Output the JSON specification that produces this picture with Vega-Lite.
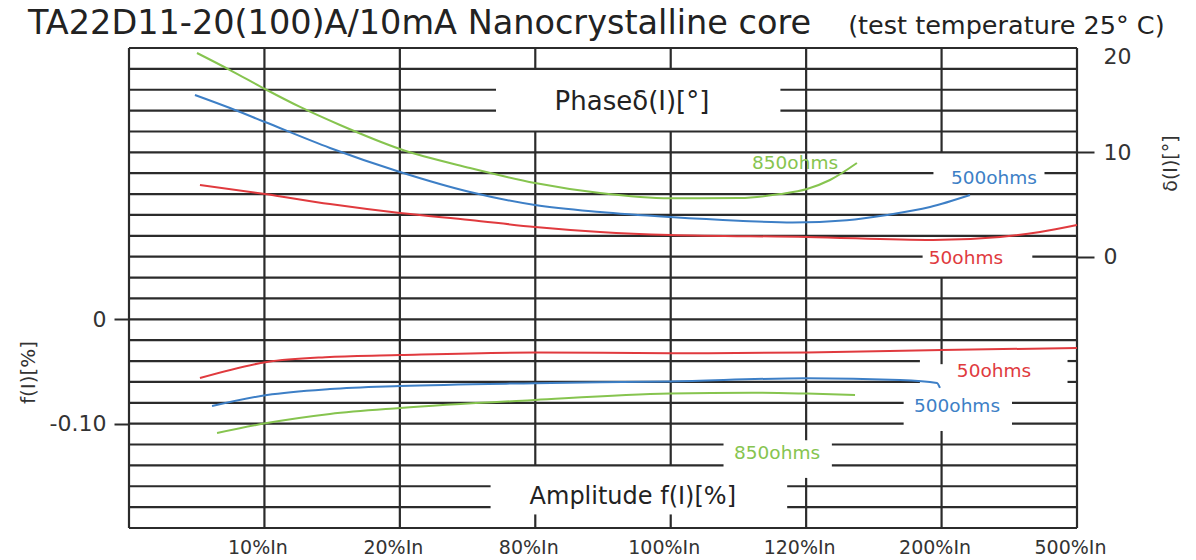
{
"$schema":"https://vega.github.io/schema/vega-lite/v6.json",
"autosize":{"type":"none"},
"padding":{"left":129,"top":48,"right":119,"bottom":32},
"width":948,"height":480,
"background":"white",
"config":{"view":{"stroke":null},"font":"DejaVu Sans"},
"datasets":{
"hgrid":[
{"d":20,"x1":0,"x2":7},{"d":18,"x1":0,"x2":7},
{"d":16,"x1":0,"x2":2.71},{"d":16,"x1":4.81,"x2":7},
{"d":14,"x1":0,"x2":2.71},{"d":14,"x1":4.81,"x2":7},
{"d":12,"x1":0,"x2":7},{"d":10,"x1":0,"x2":7},
{"d":8,"x1":0,"x2":5.94},{"d":8,"x1":6.76,"x2":7},
{"d":6,"x1":0,"x2":7},{"d":4,"x1":0,"x2":7},{"d":2,"x1":0,"x2":7},
{"d":0,"x1":0,"x2":5.86},{"d":0,"x1":6.67,"x2":7},
{"d":-2,"x1":0,"x2":7},{"d":-4,"x1":0,"x2":7},{"d":-6,"x1":0,"x2":7},{"d":-8,"x1":0,"x2":7},
{"d":-10,"x1":0,"x2":5.84},{"d":-10,"x1":6.93,"x2":7},
{"d":-12,"x1":0,"x2":5.84},{"d":-12,"x1":6.93,"x2":7},
{"d":-14,"x1":0,"x2":5.72},{"d":-14,"x1":6.52,"x2":7},
{"d":-16,"x1":0,"x2":5.72},{"d":-16,"x1":6.52,"x2":7},
{"d":-18,"x1":0,"x2":4.39},{"d":-18,"x1":5.19,"x2":7},
{"d":-20,"x1":0,"x2":4.39},{"d":-20,"x1":5.19,"x2":7},
{"d":-22,"x1":0,"x2":2.67},{"d":-22,"x1":4.86,"x2":7},
{"d":-24,"x1":0,"x2":2.67},{"d":-24,"x1":4.86,"x2":7},
{"d":-26,"x1":0,"x2":7}
],
"vgrid":[
{"x":0,"y1":20,"y2":-26},{"x":1,"y1":20,"y2":-26},{"x":2,"y1":20,"y2":-26},
{"x":3,"y1":20,"y2":18},{"x":3,"y1":12,"y2":-20},{"x":3,"y1":-24.7,"y2":-26},
{"x":4,"y1":20,"y2":18},{"x":4,"y1":12,"y2":-20},{"x":4,"y1":-24.7,"y2":-26},
{"x":5,"y1":20,"y2":-17.6},{"x":5,"y1":-21.2,"y2":-26},
{"x":6,"y1":20,"y2":10},{"x":6,"y1":-2,"y2":-10.3},{"x":6,"y1":-16.7,"y2":-26},
{"x":7,"y1":20,"y2":-26}
],
"phase":[
{"load":"850ohms","x":0.502,"d":19.52},{"load":"850ohms","x":0.746,"d":17.89},{"load":"850ohms","x":1.004,"d":16.07},
{"load":"850ohms","x":1.263,"d":14.35},{"load":"850ohms","x":1.558,"d":12.62},{"load":"850ohms","x":2.001,"d":10.32},
{"load":"850ohms","x":2.518,"d":8.5},{"load":"850ohms","x":2.998,"d":7.06},{"load":"850ohms","x":3.478,"d":6.1},
{"load":"850ohms","x":3.995,"d":5.6},{"load":"850ohms","x":4.51,"d":5.62},{"load":"850ohms","x":4.807,"d":6.0},
{"load":"850ohms","x":5.006,"d":6.49},{"load":"850ohms","x":5.176,"d":7.35},{"load":"850ohms","x":5.375,"d":8.98},
{"load":"500ohms","x":0.487,"d":15.5},{"load":"500ohms","x":0.746,"d":14.25},{"load":"500ohms","x":1.004,"d":12.91},
{"load":"500ohms","x":1.484,"d":10.42},{"load":"500ohms","x":2.001,"d":8.12},{"load":"500ohms","x":2.518,"d":6.2},
{"load":"500ohms","x":2.998,"d":4.95},{"load":"500ohms","x":3.478,"d":4.28},{"load":"500ohms","x":3.995,"d":3.8},
{"load":"500ohms","x":4.5,"d":3.45},{"load":"500ohms","x":4.9,"d":3.28},{"load":"500ohms","x":5.3,"d":3.5},
{"load":"500ohms","x":5.597,"d":4.0},{"load":"500ohms","x":5.915,"d":4.76},{"load":"500ohms","x":6.21,"d":5.91},
{"load":"50ohms","x":0.524,"d":6.87},{"load":"50ohms","x":1.004,"d":6.01},{"load":"50ohms","x":1.484,"d":5.05},
{"load":"50ohms","x":2.001,"d":4.19},{"load":"50ohms","x":2.518,"d":3.52},{"load":"50ohms","x":2.998,"d":2.85},
{"load":"50ohms","x":3.478,"d":2.37},{"load":"50ohms","x":3.995,"d":2.08},{"load":"50ohms","x":5.006,"d":1.89},
{"load":"50ohms","x":5.937,"d":1.6},{"load":"50ohms","x":6.432,"d":1.89},{"load":"50ohms","x":6.727,"d":2.37},
{"load":"50ohms","x":7.0,"d":3.04}
],
"amp":[
{"load":"50ohms","x":0.524,"f":-0.0563},{"load":"50ohms","x":1.019,"f":-0.0409},{"load":"50ohms","x":1.484,"f":-0.0361},
{"load":"50ohms","x":2.001,"f":-0.0342},{"load":"50ohms","x":2.998,"f":-0.0318},{"load":"50ohms","x":3.995,"f":-0.0325},
{"load":"50ohms","x":5.006,"f":-0.0318},{"load":"50ohms","x":6.003,"f":-0.0294},{"load":"50ohms","x":7.0,"f":-0.0275},
{"load":"500ohms","x":0.613,"f":-0.0831},{"load":"500ohms","x":1.019,"f":-0.0725},{"load":"500ohms","x":1.484,"f":-0.0668},
{"load":"500ohms","x":2.001,"f":-0.0639},{"load":"500ohms","x":2.998,"f":-0.0612},{"load":"500ohms","x":3.995,"f":-0.0595},
{"load":"500ohms","x":5.006,"f":-0.0565},{"load":"500ohms","x":5.693,"f":-0.0582},{"load":"500ohms","x":5.966,"f":-0.061},
{"load":"500ohms","x":5.988,"f":-0.0658},
{"load":"850ohms","x":0.65,"f":-0.109},{"load":"850ohms","x":1.019,"f":-0.0994},{"load":"850ohms","x":1.484,"f":-0.0907},
{"load":"850ohms","x":2.001,"f":-0.085},{"load":"850ohms","x":2.998,"f":-0.0773},{"load":"850ohms","x":3.995,"f":-0.0712},
{"load":"850ohms","x":4.6,"f":-0.0703},{"load":"850ohms","x":5.006,"f":-0.0712},{"load":"850ohms","x":5.361,"f":-0.0725}
],
"curveLabels":[
{"load":"850ohms","x":4.918,"d":8.98,"text":"850ohms"},
{"load":"500ohms","x":6.387,"d":7.54,"text":"500ohms"},
{"load":"50ohms","x":6.18,"d":-0.12,"text":"50ohms"},
{"load":"50ohms","x":6.387,"d":-10.95,"text":"50ohms"},
{"load":"500ohms","x":6.114,"d":-14.31,"text":"500ohms"},
{"load":"850ohms","x":4.785,"d":-18.81,"text":"850ohms"}
],
"boxLabels":[
{"part":"phase","x":3.714,"d":14.83,"text":"Phaseδ(I)[°]"},
{"part":"amp","x":3.72,"d":-23.03,"text":"Amplitude f(I)[%]"}
],
"heading":[
{"part":"main","x":-0.746,"d":21.3,"text":"TA22D11-20(100)A/10mA Nanocrystalline core"},
{"part":"sub","x":5.31,"d":21.3,"text":"(test temperature 25° C)"}
]
},
"layer":[
{"layer":[
{"data":{"name":"hgrid"},"mark":{"type":"rule","color":"#2b2b2b","strokeWidth":2.2},
"encoding":{
"x":{"field":"x1","type":"quantitative","scale":{"domain":[0,7],"nice":false,"zero":false},
"axis":{"orient":"bottom","values":[1,2,3,4,5,6,7],"labelExpr":"['','10%In','20%In','80%In','100%In','120%In','200%In','500%In'][datum.value]","ticks":false,"domain":false,"grid":false,"labelFont":"DejaVu Sans","labelFontSize":19,"labelColor":"#333","labelPadding":10,"labelOffset":-7,"labelFlush":false,"labelOverlap":false,"labelBound":false,"title":null}},
"x2":{"field":"x2"},
"y":{"field":"d","type":"quantitative","scale":{"domain":[-26,20],"nice":false,"zero":false},
"axis":{"orient":"right","values":[20,10,0],"ticks":true,"tickSize":17,"tickWidth":2,"tickColor":{"condition":{"test":"datum.value === 20","value":"transparent"},"value":"#2b2b2b"},"domain":false,"grid":false,"labelFont":"DejaVu Sans","labelFontSize":22,"labelColor":"#333","labelPadding":9,"labelOffset":{"condition":{"test":"datum.value === 20","value":8},"value":0},"title":"δ(I)[°]","titleFont":"DejaVu Sans","titleFontSize":19,"titleFontWeight":"normal","titleColor":"#333","titleAngle":-90,"titleX":93,"titleY":115,"titleBaseline":"middle","titleAlign":"center"}}
}},
{"data":{"name":"vgrid"},"mark":{"type":"rule","color":"#2b2b2b","strokeWidth":2.2},
"encoding":{"x":{"field":"x","type":"quantitative"},"y":{"field":"y1","type":"quantitative"},"y2":{"field":"y2"}}},
{"data":{"name":"phase"},"mark":{"type":"line","interpolate":"monotone","strokeWidth":2},
"encoding":{"x":{"field":"x","type":"quantitative"},"y":{"field":"d","type":"quantitative"},
"color":{"field":"load","type":"nominal","scale":{"domain":["50ohms","500ohms","850ohms"],"range":["#e03a3e","#3d7fc6","#86c44f"]},"legend":null}}},
{"data":{"name":"curveLabels"},"mark":{"type":"text","fontSize":18.5,"align":"center","baseline":"middle","font":"DejaVu Sans"},
"encoding":{"x":{"field":"x","type":"quantitative"},"y":{"field":"d","type":"quantitative"},"text":{"field":"text"},
"color":{"field":"load","type":"nominal","legend":null}}},
{"data":{"name":"boxLabels"},"transform":[{"filter":"datum.part === 'phase'"}],"mark":{"type":"text","fontSize":26,"align":"center","baseline":"middle","color":"#222","font":"DejaVu Sans"},
"encoding":{"x":{"field":"x","type":"quantitative"},"y":{"field":"d","type":"quantitative"},"text":{"field":"text"}}},
{"data":{"name":"boxLabels"},"transform":[{"filter":"datum.part === 'amp'"}],"mark":{"type":"text","fontSize":24,"align":"center","baseline":"middle","color":"#222","font":"DejaVu Sans"},
"encoding":{"x":{"field":"x","type":"quantitative"},"y":{"field":"d","type":"quantitative"},"text":{"field":"text"}}},
{"data":{"name":"heading"},"transform":[{"filter":"datum.part === 'main'"}],"mark":{"type":"text","fontSize":33.5,"align":"left","baseline":"alphabetic","color":"#222","font":"DejaVu Sans"},
"encoding":{"x":{"field":"x","type":"quantitative"},"y":{"field":"d","type":"quantitative"},"text":{"field":"text"}}},
{"data":{"name":"heading"},"transform":[{"filter":"datum.part === 'sub'"}],"mark":{"type":"text","fontSize":25.5,"align":"left","baseline":"alphabetic","color":"#222","font":"DejaVu Sans"},
"encoding":{"x":{"field":"x","type":"quantitative"},"y":{"field":"d","type":"quantitative"},"text":{"field":"text"}}}
]},
{"layer":[
{"data":{"name":"amp"},"mark":{"type":"line","interpolate":"monotone","strokeWidth":2},
"encoding":{"x":{"field":"x","type":"quantitative","scale":{"domain":[0,7],"nice":false,"zero":false}},
"y":{"field":"f","type":"quantitative","scale":{"domain":[-0.2,0.26],"nice":false,"zero":false},
"axis":{"orient":"left","values":[0,-0.1],"labelExpr":"datum.value == 0 ? '0' : '-0.10'","ticks":true,"tickSize":15,"tickWidth":2,"tickColor":"#2b2b2b","domain":false,"grid":false,"labelFont":"DejaVu Sans","labelFontSize":22,"labelColor":"#333","labelPadding":8,"title":"f(I)[%]","titleFont":"DejaVu Sans","titleFontSize":20,"titleFontWeight":"normal","titleColor":"#333","titleAngle":-90,"titleX":-101,"titleY":324,"titleBaseline":"middle","titleAlign":"center"}},
"color":{"field":"load","type":"nominal","legend":null}}}
]}
],
"resolve":{"scale":{"y":"independent"},"axis":{"y":"independent"}}
}
